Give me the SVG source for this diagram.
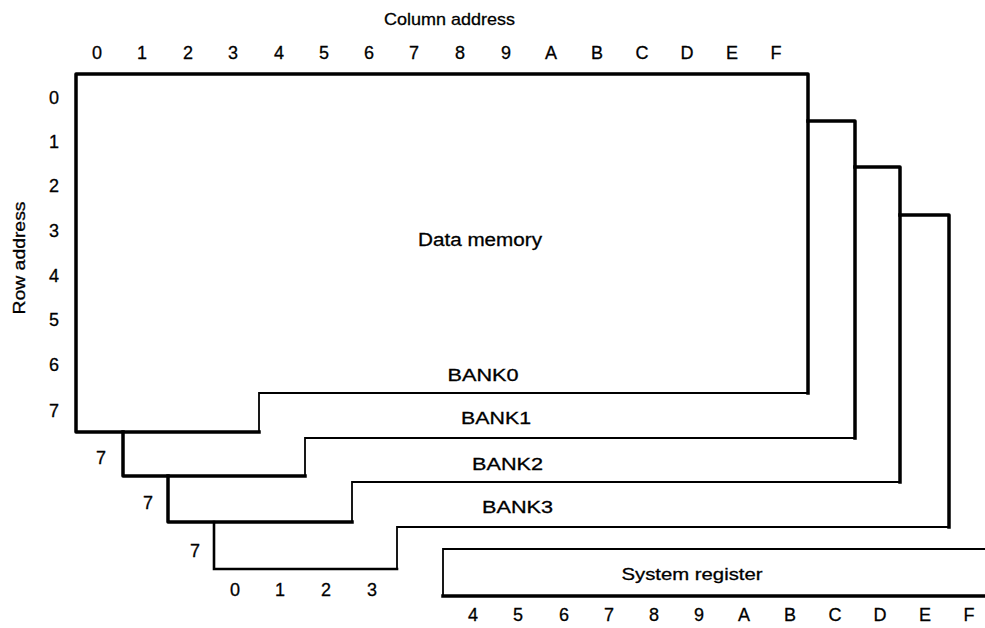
<svg xmlns="http://www.w3.org/2000/svg" width="985" height="628" viewBox="0 0 985 628">
  <style>
    .bg { fill: #ffffff; }
    .thick { fill: none; stroke: #000; stroke-width: 3.5; stroke-linecap: square; stroke-linejoin: round; }
    .thin { fill: none; stroke: #000; stroke-width: 1.8; stroke-linecap: square; stroke-linejoin: miter; }
    .med { fill: none; stroke: #000; stroke-width: 2.6; stroke-linecap: square; }
    text { font-family: "Liberation Sans", Arial, sans-serif; fill: #000; stroke: #000; stroke-width: 0.3; }
    .lbl { font-size: 17px; }
    .dig { font-size: 18px; text-anchor: middle; }
  </style>
  <rect class="bg" x="0" y="0" width="985" height="628"/>

  <g id="axis-titles">
    <text class="lbl" x="384" y="25" textLength="131" lengthAdjust="spacingAndGlyphs">Column address</text>
    <text class="lbl" transform="translate(25,258) rotate(-90)" text-anchor="middle" textLength="113" lengthAdjust="spacingAndGlyphs">Row address</text>
  </g>

  <g id="column-labels-top">
    <text class="dig" x="97" y="59">0</text>
    <text class="dig" x="142" y="59">1</text>
    <text class="dig" x="188" y="59">2</text>
    <text class="dig" x="233" y="59">3</text>
    <text class="dig" x="279" y="59">4</text>
    <text class="dig" x="324" y="59">5</text>
    <text class="dig" x="369" y="59">6</text>
    <text class="dig" x="414" y="59">7</text>
    <text class="dig" x="460" y="59">8</text>
    <text class="dig" x="506" y="59">9</text>
    <text class="dig" x="551" y="59">A</text>
    <text class="dig" x="597" y="59">B</text>
    <text class="dig" x="642" y="59">C</text>
    <text class="dig" x="687" y="59">D</text>
    <text class="dig" x="732" y="59">E</text>
    <text class="dig" x="776" y="59">F</text>
  </g>

  <g id="row-labels">
    <text class="dig" x="54" y="104">0</text>
    <text class="dig" x="54" y="148">1</text>
    <text class="dig" x="54" y="192">2</text>
    <text class="dig" x="54" y="237">3</text>
    <text class="dig" x="54" y="282">4</text>
    <text class="dig" x="54" y="326">5</text>
    <text class="dig" x="54" y="371">6</text>
    <text class="dig" x="54" y="417">7</text>
    <text class="dig" x="101" y="464">7</text>
    <text class="dig" x="148" y="509">7</text>
    <text class="dig" x="195" y="557">7</text>
  </g>

  <g id="bank0">
    <path class="thick" d="M259,432 H76 V74 H808 V393"/>
    <path class="thin" d="M808,393 H259 V432"/>
    <text class="lbl" x="483" y="381" text-anchor="middle" textLength="71" lengthAdjust="spacingAndGlyphs">BANK0</text>
    <text x="480" y="246" font-size="18" text-anchor="middle" textLength="124" lengthAdjust="spacingAndGlyphs">Data memory</text>
  </g>

  <g id="bank1">
    <path class="thick" d="M305,476 H123 V432"/>
    <path class="thick" d="M808,121 H855 V438"/>
    <path class="thin" d="M855,438 H305 V476"/>
    <text class="lbl" x="496" y="424" text-anchor="middle" textLength="70" lengthAdjust="spacingAndGlyphs">BANK1</text>
  </g>

  <g id="bank2">
    <path class="thick" d="M352,522 H168 V476"/>
    <path class="thick" d="M855,167 H900 V482"/>
    <path class="thin" d="M900,482 H352 V522"/>
    <text class="lbl" x="507.5" y="470" text-anchor="middle" textLength="71" lengthAdjust="spacingAndGlyphs">BANK2</text>
  </g>

  <g id="bank3">
    <path class="med" d="M397,569 H214 V522"/>
    <path class="thick" d="M900,215 H949 V527"/>
    <path class="thin" d="M949,527 H397 V569"/>
    <text class="lbl" x="517.5" y="513" text-anchor="middle" textLength="71" lengthAdjust="spacingAndGlyphs">BANK3</text>
  </g>

  <g id="bank-column-labels">
    <text class="dig" x="235" y="596">0</text>
    <text class="dig" x="280" y="596">1</text>
    <text class="dig" x="326" y="596">2</text>
    <text class="dig" x="372" y="596">3</text>
  </g>

  <g id="system-register">
    <path class="thin" d="M985,549 H443 V596"/>
    <path class="thick" d="M443,596 H985"/>
    <text class="lbl" x="692" y="580" text-anchor="middle" textLength="141" lengthAdjust="spacingAndGlyphs">System register</text>
    <text class="dig" x="473" y="621">4</text>
    <text class="dig" x="518" y="621">5</text>
    <text class="dig" x="564" y="621">6</text>
    <text class="dig" x="609" y="621">7</text>
    <text class="dig" x="654" y="621">8</text>
    <text class="dig" x="699" y="621">9</text>
    <text class="dig" x="744" y="621">A</text>
    <text class="dig" x="790" y="621">B</text>
    <text class="dig" x="835" y="621">C</text>
    <text class="dig" x="880" y="621">D</text>
    <text class="dig" x="925" y="621">E</text>
    <text class="dig" x="969" y="621">F</text>
  </g>
</svg>
